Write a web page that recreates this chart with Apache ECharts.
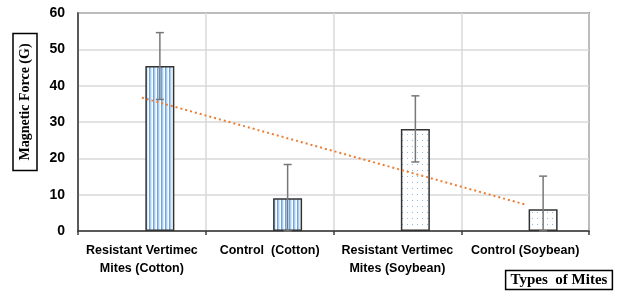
<!DOCTYPE html>
<html>
<head>
<meta charset="utf-8">
<script src="https://cdn.jsdelivr.net/npm/echarts@6/dist/echarts.min.js"></script>
<style>
  html, body { margin: 0; padding: 0; background: #fff; }
  #chart { width: 617px; height: 294px; }
</style>
</head>
<body>
<div id="chart"></div>
<script>
const categories = [
    'Resistant Vertimec\nMites (Cotton)',
    'Control  (Cotton)',
    'Resistant Vertimec\nMites (Soybean)',
    'Control (Soybean)'
];
const forceValues = [45.4, 9.0, 28.1, 6.0];
const errorValues = [9.2, 9.3, 9.1, 9.1];
const trendValues = [36.7, 26.9, 17.1, 7.3];
const yTicks = { min: 0, max: 60, interval: 10 };
// which fill each bar uses
const barFills = ['stripes', 'stripes', 'dots', 'dots'];

// fill patterns like the excel bars
const makeStripes = () => {
    const c = document.createElement('canvas');
    c.width = 4; c.height = 4;
    const ctx = c.getContext('2d');
    ['#ffffff', '#6aa5e0', '#a9cbef', '#dce9f7'].forEach((col, i) => {
        ctx.fillStyle = col;
        ctx.fillRect(i, 0, 1, 4);
    });
    return c;
};
const makeDots = () => {
    const c = document.createElement('canvas');
    c.width = 5; c.height = 6;
    const ctx = c.getContext('2d');
    ctx.fillStyle = '#ffffff';
    ctx.fillRect(0, 0, 5, 6);
    ctx.fillStyle = '#8db8e8';
    ctx.fillRect(2, 2, 1, 1);
    return c;
};
const patterns = {
    stripes: { image: makeStripes(), repeat: 'repeat' },
    dots: { image: makeDots(), repeat: 'repeat' }
};

const chart = echarts.init(document.getElementById('chart'));

const option = {
    animation: false,
    grid: {
        left: 78, right: 28, top: 13, bottom: 63,
        show: true,
        borderColor: '#3a3a3a',
        borderWidth: 1.5
    },
    xAxis: {
        type: 'category',
        data: categories,
        axisLine: { lineStyle: { color: '#3a3a3a', width: 1.5 } },
        axisTick: { show: true, length: 4, lineStyle: { color: '#3a3a3a', width: 1.5 } },
        splitLine: { show: true, lineStyle: { color: '#d9d9d9', width: 1.5 } },
        axisLabel: {
            color: '#000',
            fontWeight: 'bold',
            fontSize: 12.5,
            fontFamily: 'Liberation Sans',
            lineHeight: 18,
            margin: 11,
            interval: 0
        }
    },
    yAxis: {
        type: 'value',
        min: yTicks.min,
        max: yTicks.max,
        interval: yTicks.interval,
        axisLine: { show: true, lineStyle: { color: '#3a3a3a', width: 1.5 } },
        axisTick: { show: false },
        splitLine: { lineStyle: { color: '#d9d9d9', width: 1.5 } },
        axisLabel: {
            color: '#000',
            fontWeight: 'bold',
            fontSize: 14,
            fontFamily: 'Liberation Sans',
            margin: 13
        }
    },
    graphic: [
        {
            type: 'text',
            x: 25, y: 102,
            rotation: Math.PI / 2,
            style: {
                text: 'Magnetic Force (G)',
                font: 'bold 14px "Liberation Serif"',
                fill: '#000',
                align: 'center',
                verticalAlign: 'middle',
                borderColor: '#000',
                borderWidth: 1.5,
                padding: [5, 10]
            }
        },
        {
            type: 'text',
            x: 559, y: 280,
            style: {
                text: 'Types  of Mites',
                font: 'bold 15px "Liberation Serif"',
                fill: '#000',
                align: 'center',
                verticalAlign: 'middle',
                borderColor: '#000',
                borderWidth: 1.5,
                padding: [2, 5]
            }
        }
    ],
    series: [
        {
            // empty first slot so the bar sits right of centre
            type: 'bar',
            data: categories.map(() => '-'),
            barWidth: 29,
            barGap: '24%'
        },
        {
            type: 'bar',
            barWidth: 29,
            barGap: '24%',
            data: forceValues.map((v, i) => ({
                value: v,
                itemStyle: { color: patterns[barFills[i]] }
            })),
            itemStyle: { borderColor: '#333', borderWidth: 1.5 },
            z: 3
        },
        {
            type: 'custom',
            z: 5,
            data: forceValues.map((v, i) => [i, Math.max(0, v - errorValues[i]), v + errorValues[i]]),
            renderItem: (params, api) => {
                const lo = api.coord([api.value(0), api.value(1)]);
                const hi = api.coord([api.value(0), api.value(2)]);
                const x = lo[0] + 18;
                const cap = 4;
                const style = { stroke: '#777', lineWidth: 1.5 };
                return {
                    type: 'group',
                    children: [
                        { type: 'line', shape: { x1: x, y1: lo[1], x2: x, y2: hi[1] }, style },
                        { type: 'line', shape: { x1: x - cap, y1: hi[1], x2: x + cap, y2: hi[1] }, style },
                        { type: 'line', shape: { x1: x - cap, y1: lo[1], x2: x + cap, y2: lo[1] }, style }
                    ]
                };
            }
        },
        {
            type: 'line',
            data: trendValues,
            symbol: 'none',
            z: 6,
            lineStyle: { color: '#ed7d31', width: 2, type: [2, 3] }
        }
    ]
};

chart.setOption(option);
</script>
</body>
</html>
